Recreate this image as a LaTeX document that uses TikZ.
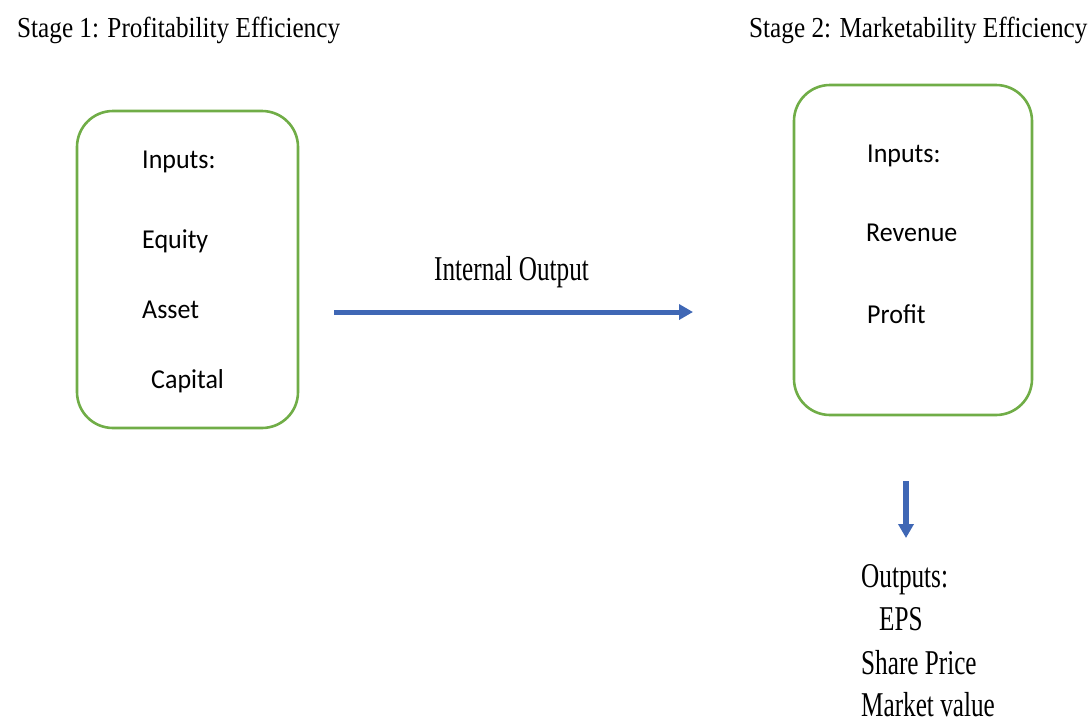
\documentclass[tikz,border=0pt]{standalone}
\usepackage{fontspec}
\setmainfont{Liberation Serif}
\newfontfamily\calib{Carlito}
\usetikzlibrary{arrows.meta}
\definecolor{boxgreen}{HTML}{70AD47}
\definecolor{arrblue}{HTML}{3F67B5}
\begin{document}
\begin{tikzpicture}[x=1pt,y=-1pt,
  stagebox/.style={draw=boxgreen,line width=2.6pt,rounded corners=36pt,inner sep=0pt},
  serif/.style={anchor=base west,inner sep=0pt,font=\fontsize{25.2}{30}\selectfont,yscale=1.15},
  tall/.style={yscale=1.2},
  cal/.style={anchor=base west,inner sep=0pt,font=\calib\fontsize{26}{30}\selectfont,yscale=1.05},
  bluearrow/.style={draw=arrblue,line width=5pt,-{Triangle[length=14pt,width=15pt]}}]
\useasboundingbox (0,0) rectangle (1090,724);
% titles
\node[serif] (t1) at (17,37) {Stage 1: Profitability Efficiency};
\node[serif] (t2) at (749,37) {Stage 2: Marketability Efficiency};
% boxes
\node[stagebox,minimum width=221pt,minimum height=317pt] (b1) at (187.5,269.5) {};
\node[stagebox,minimum width=238pt,minimum height=330pt] (b2) at (913,250) {};
% box 1 texts
\node[cal] (i1) at (142,168) {Inputs:};
\node[cal] (eq) at (142,248) {Equity};
\node[cal] (as) at (142,318) {Asset};
\node[cal] (ca) at (151,388) {Capital};
% box 2 texts
\node[cal] (i2) at (867,162) {Inputs:};
\node[cal] (re) at (866,241) {Revenue};
\node[cal] (pr) at (867,323) {Profit};
% internal output
\node[serif,tall] (io) at (434,280) {Internal Output};
\coordinate (h1) at (334,312);
\coordinate (h2) at (693,312);
\draw[bluearrow] (h1) -- (h2);
% vertical arrow
\coordinate (v1) at (906,481);
\coordinate (v2) at (906,538);
\draw[bluearrow,line width=6pt] (v1) -- (v2);
% outputs
\node[serif,tall] (op) at (861,587) {Outputs:};
\node[serif,tall] (ep) at (879,630) {EPS};
\node[serif,tall] (sp) at (861,674) {Share Price};
\node[serif,tall] (mv) at (861,716) {Market value};
\end{tikzpicture}
\end{document}
